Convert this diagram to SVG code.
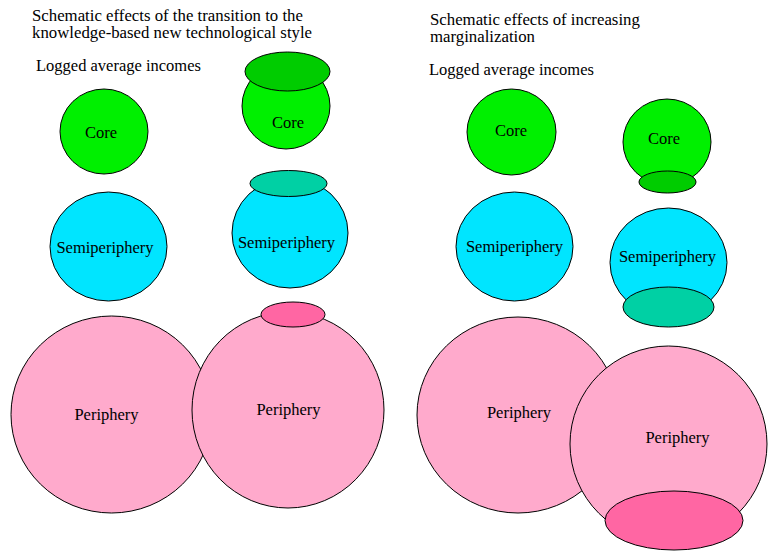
<svg xmlns="http://www.w3.org/2000/svg" width="768" height="551" viewBox="0 0 768 551">
<style>
text{font-family:"Liberation Serif","Times New Roman",serif;font-size:16.5px;fill:#000}
.t{font-size:16.8px}
.l{text-anchor:middle}
ellipse{stroke:#000;stroke-width:1}
.core{fill:#00F000}
.core2{fill:#00CC00}
.semi{fill:#00E5FF}
.semi2{fill:#00D0A4}
.peri{fill:#FFAACC}
.peri2{fill:#FF66A3}
</style>
<rect width="768" height="551" fill="#fff"/>
<g id="titles">
<text class="t" x="32" y="21">Schematic effects of the transition to the</text>
<text class="t" x="32" y="38">knowledge-based new technological style</text>
<text x="36" y="71">Logged average incomes</text>
<text class="t" x="430" y="24.5">Schematic effects of increasing</text>
<text class="t" x="430" y="41.5">marginalization</text>
<text x="429" y="75">Logged average incomes</text>
</g>
<g id="core1"><ellipse class="core" cx="104" cy="131.5" rx="44" ry="42.5"/><text class="l" x="101" y="138">Core</text></g>
<g id="core2"><ellipse class="core" cx="286" cy="106" rx="44" ry="43"/><ellipse class="core2" cx="287.5" cy="71.5" rx="42.5" ry="19.5"/><text class="l" x="288" y="128">Core</text></g>
<g id="semi1"><ellipse class="semi" cx="108.5" cy="246.5" rx="58.5" ry="54.5"/><text class="l" x="105" y="253">Semiperiphery</text></g>
<g id="semi2"><ellipse class="semi" cx="290" cy="233" rx="58" ry="55"/><ellipse class="semi2" cx="288.5" cy="183.5" rx="38.5" ry="13"/><text class="l" x="286.5" y="248">Semiperiphery</text></g>
<g id="peri1"><ellipse class="peri" cx="111.5" cy="414.5" rx="100.5" ry="98.5"/><text class="l" x="106.5" y="420">Periphery</text></g>
<g id="peri2"><ellipse class="peri" cx="288" cy="410" rx="96" ry="98"/><ellipse class="peri2" cx="293" cy="314.5" rx="32" ry="12.5"/><text class="l" x="288.5" y="415">Periphery</text></g>
<g id="core3"><ellipse class="core" cx="511.5" cy="132" rx="44.5" ry="43"/><text class="l" x="511" y="136">Core</text></g>
<g id="core4"><ellipse class="core" cx="667" cy="142" rx="44" ry="43"/><ellipse class="core2" cx="667.5" cy="182" rx="28.5" ry="11"/><text class="l" x="664" y="144">Core</text></g>
<g id="semi3"><ellipse class="semi" cx="514.5" cy="246.5" rx="58.5" ry="54.5"/><text class="l" x="514.5" y="252">Semiperiphery</text></g>
<g id="semi4"><ellipse class="semi" cx="668.5" cy="262.5" rx="58.5" ry="54.5"/><ellipse class="semi2" cx="668.5" cy="307" rx="45.5" ry="20"/><text class="l" x="667.5" y="262">Semiperiphery</text></g>
<g id="peri3"><ellipse class="peri" cx="518" cy="415" rx="101" ry="98"/><text class="l" x="519" y="418">Periphery</text></g>
<g id="peri4"><ellipse class="peri" cx="668.5" cy="444" rx="98.5" ry="98"/><ellipse class="peri2" cx="674" cy="520.5" rx="69" ry="29.5"/><text class="l" x="677.5" y="443">Periphery</text></g>
<g id="connectors"/>
</svg>
